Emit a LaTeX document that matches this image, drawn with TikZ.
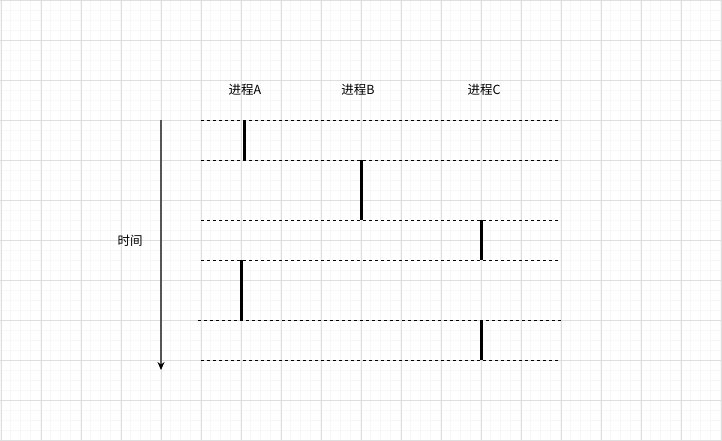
\documentclass[tikz,border=0pt]{standalone}
\usepackage{fontspec}
\setmainfont{Noto Sans CJK SC}
\usetikzlibrary{arrows.meta}
\definecolor{gridmajor}{HTML}{DEDEDE}
\definecolor{gridminor}{HTML}{F7F7F7}
\definecolor{axisgray}{HTML}{555555}
\tikzset{
  timeline/.style={black, line width=0.9pt, dash pattern=on 3pt off 3pt},
  runbar/.style={black, line width=3pt},
  label/.style={font=\fontsize{12.5pt}{14pt}\selectfont, inner sep=0pt},
  timeaxis/.style={axisgray, line width=1.3pt, -{Stealth[length=8pt,width=7pt,black]}}
}
\begin{document}
\begin{tikzpicture}[x=1pt,y=-1pt]
\useasboundingbox (0,0) rectangle (722,440);
\fill[white] (0,0) rectangle (722,440);
% grid
\foreach \x in {0,10,...,720} \draw[gridminor, line width=0.8pt] (\x+0.5,0) -- (\x+0.5,440);
\foreach \y in {0,10,...,440} \draw[gridminor, line width=0.8pt] (0,\y) -- (722,\y);
\foreach \x in {0,40,...,720} \draw[gridmajor, line width=0.9pt] (\x+1,0) -- (\x+1,440);
\foreach \y in {0,40,...,440} \draw[gridmajor, line width=0.9pt] (0,\y) -- (722,\y);

% labels
\node[label] (pA) at (245,90) {进程A};
\node[label] (pB) at (358,90) {进程B};
\node[label] (pC) at (484,90) {进程C};
\node[label] (time) at (130,241) {时间};

% time axis
\coordinate (axTop) at (161,120);
\coordinate (axBot) at (161,370);
\draw[timeaxis] (axTop) -- (axBot);

% dashed time lines
\coordinate (l1a) at (201,120); \coordinate (l1b) at (560,120);
\coordinate (l2a) at (201,160); \coordinate (l2b) at (560,160);
\coordinate (l3a) at (201,220); \coordinate (l3b) at (560,220);
\coordinate (l4a) at (201,260); \coordinate (l4b) at (560,260);
\coordinate (l5a) at (198,320); \coordinate (l5b) at (562,320);
\coordinate (l6a) at (201,360); \coordinate (l6b) at (560,360);
\foreach \i in {1,...,6} \draw[timeline] (l\i a) -- (l\i b);

% running bars
\coordinate (a1t) at (244,120); \coordinate (a1b) at (244,160);
\coordinate (b1t) at (361,160); \coordinate (b1b) at (361,220);
\coordinate (c1t) at (481,220); \coordinate (c1b) at (481,260);
\coordinate (a2t) at (241,260); \coordinate (a2b) at (241,320);
\coordinate (c2t) at (481,320); \coordinate (c2b) at (481,360);
\draw[runbar] (a1t) -- (a1b);
\draw[runbar] (b1t) -- (b1b);
\draw[runbar] (c1t) -- (c1b);
\draw[runbar] (a2t) -- (a2b);
\draw[runbar] (c2t) -- (c2b);
\end{tikzpicture}
\end{document}
